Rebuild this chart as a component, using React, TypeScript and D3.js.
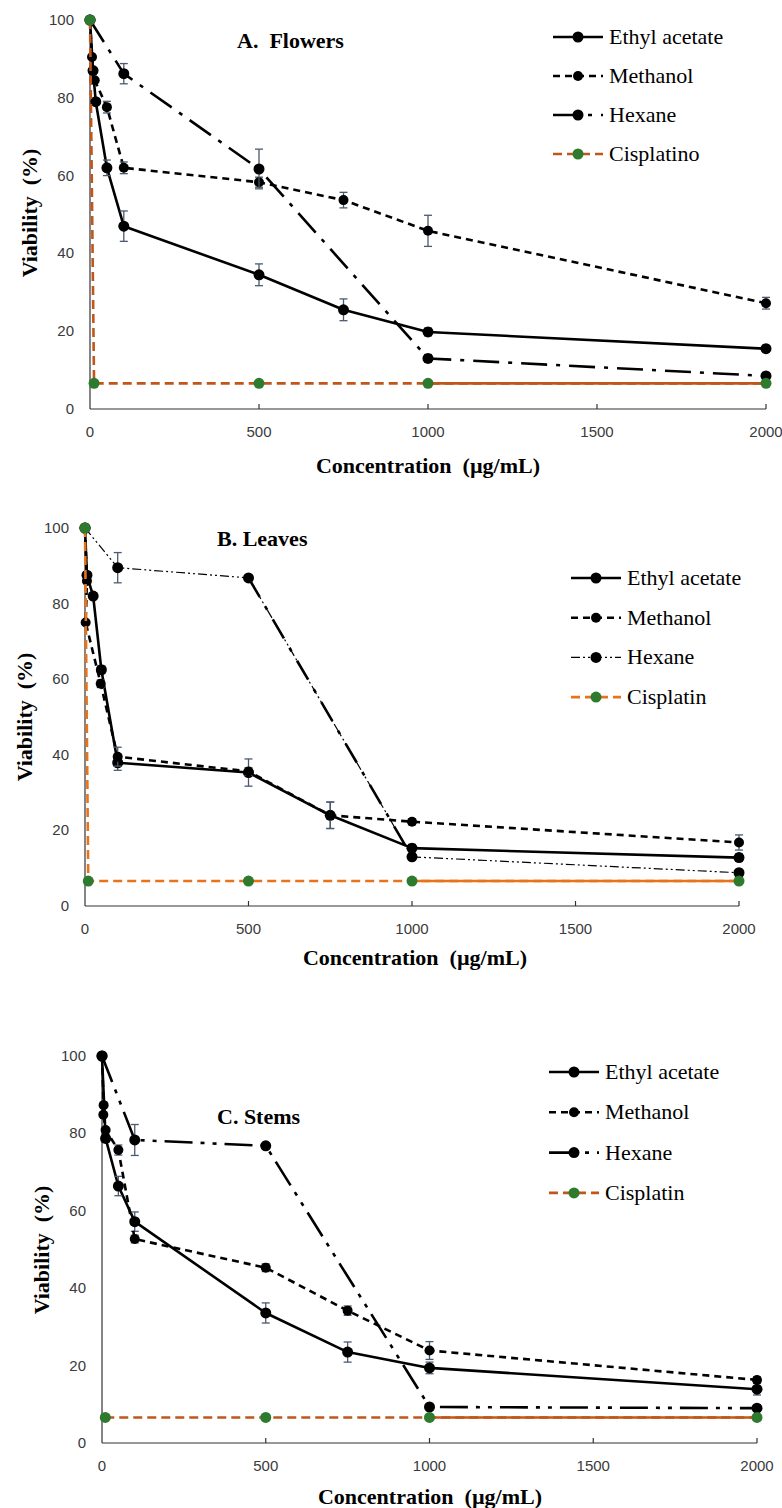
import * as d3 from "d3";

// ---- data ----
const tickX = [0, 500, 1000, 1500, 2000];
const tickY = [0, 20, 40, 60, 80, 100];

// A. Flowers
const flowersEthylX = [0, 9, 17, 50, 100, 500, 750, 1000, 2000];
const flowersEthylY = [100, 87, 79, 62, 47, 34.5, 25.5, 19.8, 15.5];
const flowersEthylErr = [0, 0, 0, 2, 3.9, 2.8, 2.8, 1, 0.8];
const flowersMethX = [0, 6, 14, 50, 100, 500, 750, 1000, 2000];
const flowersMethY = [100, 90.5, 84.5, 77.6, 62, 58.3, 53.7, 45.8, 27.2];
const flowersMethErr = [0, 0, 0, 1.5, 1.5, 1.3, 2, 4, 1.5];
const flowersHexX = [0, 100, 500, 1000, 2000];
const flowersHexY = [100, 86.2, 61.7, 13, 8.5];
const flowersHexErr = [0, 2.6, 5.1, 1, 0.8];
const flowersCisX = [0, 12, 500, 1000, 2000];
const flowersCisY = [100, 6.6, 6.6, 6.6, 6.6];

// B. Leaves
const leavesEthylX = [0, 6, 25, 50, 100, 500, 750, 1000, 2000];
const leavesEthylY = [100, 87.5, 82, 62.5, 37.9, 35.3, 24, 15.3, 12.8];
const leavesEthylErr = [0, 0, 0, 1, 2, 3.6, 3.5, 1, 1];
const leavesMethX = [0, 6, 2, 48, 100, 500, 750, 1000, 2000];
const leavesMethY = [100, 86, 75, 58.8, 39.5, 35.6, 24, 22.3, 16.8];
const leavesMethErr = [0, 0, 0, 1, 2.5, 1, 3.5, 0.8, 2];
const leavesHexX = [0, 100, 500, 1000, 2000];
const leavesHexY = [100, 89.5, 86.8, 13, 8.8];
const leavesHexErr = [0, 4, 0, 0, 0];
const leavesCisX = [0, 10, 500, 1000, 2000];
const leavesCisY = [100, 6.6, 6.6, 6.6, 6.6];

// C. Stems
const stemsEthylX = [0, 11, 50, 100, 500, 750, 1000, 2000];
const stemsEthylY = [100, 78.7, 66.4, 57.2, 33.6, 23.5, 19.4, 13.9];
const stemsEthylErr = [0, 1, 2.5, 2.5, 2.6, 2.6, 1.5, 1.5];
const stemsMethX = [0, 5, 4, 11, 50, 100, 500, 750, 1000, 2000];
const stemsMethY = [100, 87.3, 84.8, 80.9, 75.7, 52.7, 45.3, 34.2, 23.9, 16.3];
const stemsMethErr = [0, 0, 0, 0, 1.3, 1, 1, 1.2, 2.3, 0.8];
const stemsHexX = [0, 100, 500, 1000, 2000];
const stemsHexY = [100, 78.3, 76.8, 9.3, 9.0];
const stemsHexErr = [0, 4, 0.5, 0, 0];
const stemsCisX = [10, 500, 1000, 2000];
const stemsCisY = [6.6, 6.6, 6.6, 6.6];

const legendA = ["Ethyl acetate", "Methanol", "Hexane", "Cisplatino"];
const legendBC = ["Ethyl acetate", "Methanol", "Hexane", "Cisplatin"];

// ---- styles ----
const SERIF = "'Liberation Serif', 'Times New Roman', serif";
const SANS = "'Liberation Sans', Arial, sans-serif";
const ERR = "#4b5a6e";
const GREEN = "#2e7a2e";

type Kind = "ethyl" | "methanol" | "hexane" | "cis";
type Series = { kind: Kind; xs: number[]; ys: number[]; errs?: number[] };

function Panel(props: {
  x0: number; x1: number; yTop: number; yBot: number;
  title: string; titleX: number; titleY: number;
  legX: number; legY: number; legStep: number; names: string[];
  xTitleX: number; xTitleDy: number; yTitleX: number; yTitleY: number;
  orange: string; hexDash: string; hexWidth: number; hexThickSeg?: boolean;
  series: Series[];
}) {
  const p = props;
  const x = d3.scaleLinear().domain([0, 2000]).range([p.x0, p.x1]);
  const y = d3.scaleLinear().domain([0, 100]).range([p.yBot, p.yTop]);

  const style = (k: Kind) => {
    if (k === "ethyl") return { stroke: "#000", w: 2.6, dash: undefined as string | undefined, r: 5.5, fill: "#000" };
    if (k === "methanol") return { stroke: "#000", w: 2.6, dash: "7,5", r: 5, fill: "#000" };
    if (k === "hexane") return { stroke: "#000", w: p.hexWidth, dash: p.hexDash, r: 5.5, fill: "#000" };
    return { stroke: p.orange, w: 2.6, dash: "9,5", r: 5.5, fill: GREEN };
  };

  const line = d3.line<[number, number]>().x((d) => x(d[0])).y((d) => y(d[1]));

  return (
    <g>
      {/* axes */}
      <line x1={p.x0} x2={p.x0} y1={p.yTop} y2={p.yBot} stroke="#333" strokeWidth={1.2} />
      <line x1={p.x0} x2={p.x1} y1={p.yBot} y2={p.yBot} stroke="#333" strokeWidth={1.2} />
      {tickX.map((t) => (
        <g key={"tx" + t}>
          {t > 0 && <line x1={x(t)} x2={x(t)} y1={p.yBot} y2={p.yBot - 5} stroke="#333" strokeWidth={1.2} />}
          <text x={x(t)} y={p.yBot + 28} textAnchor="middle" fontFamily={SANS} fontSize={15} fill="#3a3a3a">{t}</text>
        </g>
      ))}
      {tickY.map((t) => (
        <text key={"ty" + t} x={p.x0 - 16} y={y(t) + 5} textAnchor="end" fontFamily={SANS} fontSize={15} fill="#3a3a3a">{t}</text>
      ))}
      <text x={p.xTitleX} y={p.yBot + p.xTitleDy} textAnchor="middle" fontFamily={SERIF} fontWeight="bold" fontSize={22} style={{ whiteSpace: "pre" }}>
        {"Concentration  (µg/mL)"}
      </text>
      <text transform={`translate(${p.yTitleX},${p.yTitleY}) rotate(-90)`} textAnchor="middle" fontFamily={SERIF} fontWeight="bold" fontSize={22} style={{ whiteSpace: "pre" }}>
        {"Viability  (%)"}
      </text>
      <text x={p.titleX} y={p.titleY} fontFamily={SERIF} fontWeight="bold" fontSize={22} style={{ whiteSpace: "pre" }}>{p.title}</text>

      {/* series */}
      {p.series.map((s, si) => {
        const st = style(s.kind);
        const pts = s.xs.map((v, i) => [v, s.ys[i]] as [number, number]);
        return (
          <g key={si}>
            <path d={line(pts) || ""} fill="none" stroke={st.stroke} strokeWidth={st.w} strokeDasharray={st.dash} strokeLinejoin="round" />
            {s.kind === "hexane" && p.hexThickSeg && (
              <path d={line(pts.filter((d) => d[0] >= 500 && d[0] <= 1000)) || ""} fill="none" stroke="#000" strokeWidth={2.6} strokeDasharray="22,11,4,11" />
            )}
            {s.kind === "cis" && (
              <path d={line(pts.filter((d) => d[0] >= 1000)) || ""} fill="none" stroke={st.stroke} strokeWidth={2.6} />
            )}
            {s.errs && s.errs.map((e, i) =>
              e > 0 ? (
                <g key={"e" + i} stroke={ERR} strokeWidth={1.3}>
                  <line x1={x(s.xs[i])} x2={x(s.xs[i])} y1={y(s.ys[i] - e)} y2={y(s.ys[i] + e)} />
                  <line x1={x(s.xs[i]) - 4} x2={x(s.xs[i]) + 4} y1={y(s.ys[i] - e)} y2={y(s.ys[i] - e)} />
                  <line x1={x(s.xs[i]) - 4} x2={x(s.xs[i]) + 4} y1={y(s.ys[i] + e)} y2={y(s.ys[i] + e)} />
                </g>
              ) : null
            )}
            {pts.map((d, i) => (
              <circle key={"c" + i} cx={x(d[0])} cy={y(d[1])} r={st.r} fill={st.fill} />
            ))}
          </g>
        );
      })}

      {/* legend */}
      {p.names.map((n, i) => {
        const kinds: Kind[] = ["ethyl", "methanol", "hexane", "cis"];
        const st = style(kinds[i]);
        const cy = p.legY + i * p.legStep;
        return (
          <g key={"l" + i}>
            <line x1={p.legX} x2={p.legX + 50} y1={cy} y2={cy} stroke={st.stroke} strokeWidth={st.w} strokeDasharray={st.dash} />
            <circle cx={p.legX + 25} cy={cy} r={st.r} fill={st.fill} />
            <text x={p.legX + 56} y={cy + 7} fontFamily={SERIF} fontSize={22} fill="#000">{n}</text>
          </g>
        );
      })}
    </g>
  );
}

export default function App() {
  return (
    <svg width={782} height={1508} style={{ position: "absolute", left: 0, top: 0, background: "#fff" }}>
      <Panel
        x0={90} x1={766} yTop={20} yBot={409}
        title="A.  Flowers" titleX={237} titleY={48}
        legX={553} legY={37} legStep={39} names={legendA}
        xTitleX={428} xTitleDy={64} yTitleX={37} yTitleY={213}
        orange="#c0561a" hexDash="26,9,4,9" hexWidth={2.6}
        series={[
          { kind: "ethyl", xs: flowersEthylX, ys: flowersEthylY, errs: flowersEthylErr },
          { kind: "methanol", xs: flowersMethX, ys: flowersMethY, errs: flowersMethErr },
          { kind: "hexane", xs: flowersHexX, ys: flowersHexY, errs: flowersHexErr },
          { kind: "cis", xs: flowersCisX, ys: flowersCisY },
        ]}
      />
      <Panel
        x0={85} x1={739} yTop={528} yBot={906}
        title="B. Leaves" titleX={217} titleY={546}
        legX={571} legY={578} legStep={39.7} names={legendBC}
        xTitleX={415} xTitleDy={59} yTitleX={32} yTitleY={717}
        orange="#e8731a" hexDash="9,3,2,3,2,3" hexWidth={1.2} hexThickSeg
        series={[
          { kind: "ethyl", xs: leavesEthylX, ys: leavesEthylY, errs: leavesEthylErr },
          { kind: "methanol", xs: leavesMethX, ys: leavesMethY, errs: leavesMethErr },
          { kind: "hexane", xs: leavesHexX, ys: leavesHexY, errs: leavesHexErr },
          { kind: "cis", xs: leavesCisX, ys: leavesCisY },
        ]}
      />
      <Panel
        x0={102} x1={757} yTop={1056} yBot={1443}
        title="C. Stems" titleX={217} titleY={1124}
        legX={549} legY={1072} legStep={40.3} names={legendBC}
        xTitleX={430} xTitleDy={61} yTitleX={49} yTitleY={1250}
        orange="#c0561a" hexDash="28,8,4,8,4,8" hexWidth={2.6}
        series={[
          { kind: "ethyl", xs: stemsEthylX, ys: stemsEthylY, errs: stemsEthylErr },
          { kind: "methanol", xs: stemsMethX, ys: stemsMethY, errs: stemsMethErr },
          { kind: "hexane", xs: stemsHexX, ys: stemsHexY, errs: stemsHexErr },
          { kind: "cis", xs: stemsCisX, ys: stemsCisY },
        ]}
      />
    </svg>
  );
}
